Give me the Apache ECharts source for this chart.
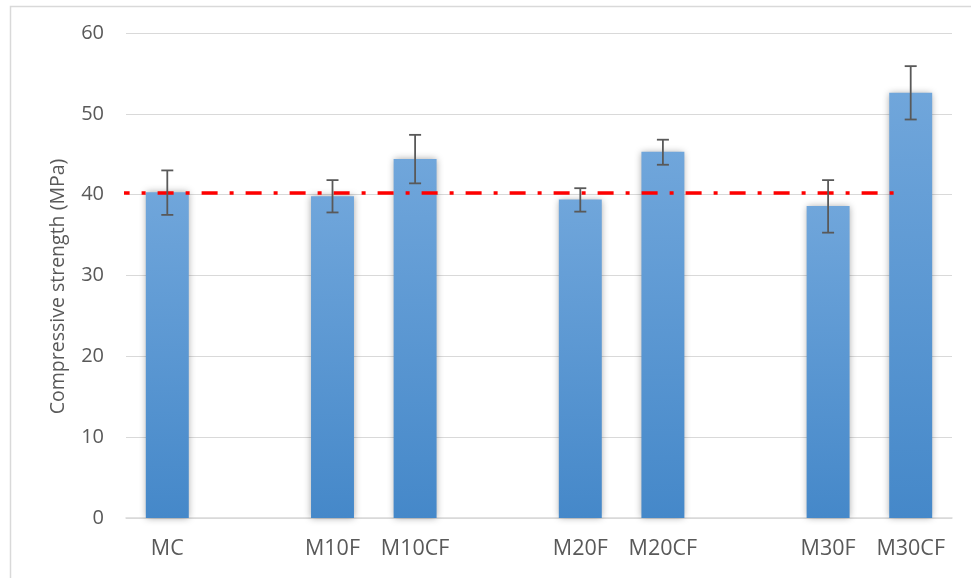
<!DOCTYPE html>
<html>
<head>
<meta charset="utf-8">
<script src="https://cdn.jsdelivr.net/npm/echarts@6/dist/echarts.min.js"></script>
<style>
html,body{margin:0;padding:0;background:#fff;}
#chart{width:971px;height:578px;}
</style>
</head>
<body>
<div id="chart"></div>
<script>
// ---- data ----
var categories = ['MC', '', 'M10F', 'M10CF', '', 'M20F', 'M20CF', '', 'M30F', 'M30CF'];
var strength   = [40.3, null, 39.8, 44.4, null, 39.4, 45.3, null, 38.6, 52.6];
var errLow     = [37.5, null, 37.8, 41.4, null, 37.9, 43.7, null, 35.3, 49.3];
var errHigh    = [43.0, null, 41.8, 47.4, null, 40.8, 46.8, null, 41.8, 55.9];
var yTicks     = [0, 10, 20, 30, 40, 50, 60];
var refValue   = 40.2;
var refLineX   = [-0.15, 9.3];   // in category-slot units along hidden x axis

var chart = echarts.init(document.getElementById('chart'));
var FONT = 'Open Sans';
var TXT = '#595959';

var errData = [];
for (var i = 0; i < categories.length; i++) {
  if (strength[i] != null) errData.push([i, errLow[i], errHigh[i]]);
}

var option = {
  animation: false,
  backgroundColor: '#ffffff',
  graphic: [{
    type: 'rect', left: 8, top: 4, silent: true,
    shape: { width: 1000, height: 620 },
    style: { fill: 'none', stroke: '#D9D9D9', lineWidth: 1.5 }
  }],
  grid: { left: 126, right: 19, top: 33, bottom: 60, containLabel: false },
  xAxis: [{
    type: 'category',
    data: categories,
    axisLine: { lineStyle: { color: '#D9D9D9', width: 1.5 } },
    axisTick: { show: false },
    axisLabel: { color: TXT, fontFamily: FONT, fontSize: 21.5, margin: 20, interval: 0 },
    splitLine: { show: false }
  }, {
    type: 'value', min: 0, max: 10, show: false
  }],
  yAxis: {
    type: 'value',
    min: yTicks[0], max: yTicks[yTicks.length - 1], interval: 10,
    name: 'Compressive strength (MPa)',
    nameLocation: 'middle', nameGap: 58,
    nameTextStyle: { color: TXT, fontFamily: FONT, fontSize: 19.5, padding: [0, 22, 0, 0] },
    axisLine: { show: false },
    axisTick: { show: false },
    axisLabel: { color: TXT, fontFamily: FONT, fontSize: 20, margin: 22 },
    splitLine: { lineStyle: { color: '#D9D9D9', width: 1.2 } }
  },
  series: [{
    type: 'bar',
    data: strength,
    barWidth: '52%',
    itemStyle: {
      color: new echarts.graphic.LinearGradient(0, 0, 0, 1, [
        { offset: 0, color: '#70A6DB' },
        { offset: 1, color: '#4588C9' }
      ]),
      shadowBlur: 7, shadowColor: 'rgba(0,0,0,0.35)', shadowOffsetX: 0, shadowOffsetY: 0
    },
    z: 2
  }, {
    type: 'line',
    xAxisIndex: 1,
    data: [[refLineX[0], refValue], [refLineX[1], refValue]],
    symbol: 'none',
    clip: false,
    lineStyle: { color: '#FF0000', width: 3.5, type: [16, 12, 4, 12] },
    z: 3
  }, {
    type: 'custom',
    data: errData,
    renderItem: function (params, api) {
      var x = api.value(0);
      var lo = api.coord([x, api.value(1)]);
      var hi = api.coord([x, api.value(2)]);
      var hw = 6;
      var st = { stroke: '#595959', lineWidth: 1.8 };
      return {
        type: 'group',
        children: [
          { type: 'line', shape: { x1: lo[0], y1: lo[1], x2: hi[0], y2: hi[1] }, style: st },
          { type: 'line', shape: { x1: hi[0] - hw, y1: hi[1], x2: hi[0] + hw, y2: hi[1] }, style: st },
          { type: 'line', shape: { x1: lo[0] - hw, y1: lo[1], x2: lo[0] + hw, y2: lo[1] }, style: st }
        ]
      };
    },
    z: 4
  }]
};
chart.setOption(option);
</script>
</body>
</html>
